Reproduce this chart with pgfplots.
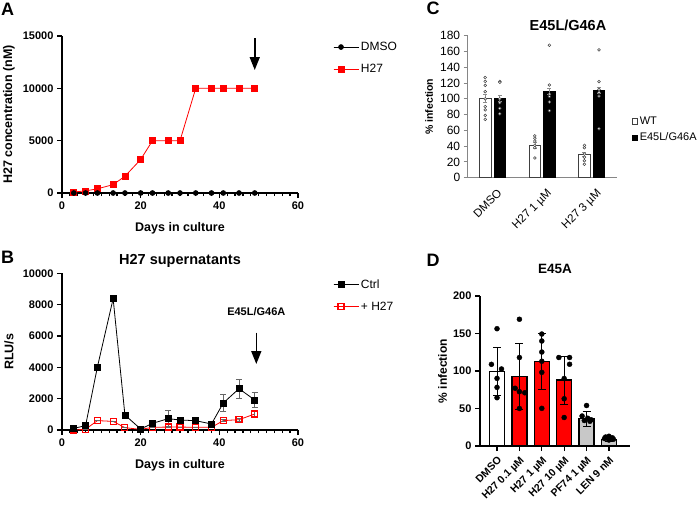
\documentclass[border=0pt]{standalone}
\usepackage{fontspec}
\setmainfont{Liberation Sans}
\usepackage{pgfplots}
\pgfplotsset{compat=1.18}
\usetikzlibrary{arrows.meta}
\definecolor{prismred}{RGB}{255,0,0}
\definecolor{barGray}{RGB}{200,200,200}
\definecolor{xlgray}{RGB}{134,134,134}
\newcommand{\fs}[1]{\fontsize{#1}{#1}\selectfont}

\pgfplotsset{
  prism/.style={
    scale only axis, clip=false,
    axis lines=left, axis line style={-, line width=1.3pt},
    tick style={black, line width=1.3pt},
    tick align=outside,
    major tick length=5pt, minor tick length=3pt,
    tick label style={font=\fs{11}\bfseries},
    label style={font=\fs{12.5}\bfseries},
    scaled ticks=false,
    /pgf/number format/assume math mode=true,
    /pgf/number format/1000 sep={},
    legend style={draw=none, fill=none, font=\fs{12}, inner sep=0pt, row sep=8pt, legend cell align=left},
    legend image code/.code={\draw[mark repeat=2,mark phase=2,##1] plot coordinates {(0pt,0pt) (7.5pt,0pt) (15pt,0pt)}; \path (0pt,0pt) -- (25pt,0pt);},
  },
}

\begin{document}
\begin{tikzpicture}
\useasboundingbox (0,0) rectangle (700pt,-504pt);

% ---------------- Panel A ----------------
\begin{axis}[prism, at={(62pt,-193pt)}, anchor=south west, width=236pt, height=157pt,
  xmin=0, xmax=60, ymin=0, ymax=15000,
  xtick={0,20,40,60}, ytick={0,5000,10000,15000}, minor x tick num=9,
  xlabel={Days in culture}, ylabel={H27 concentration (nM)},
  xlabel style={at={(axis description cs:0.5,-0.223)}, anchor=center},
  ylabel style={at={(axis description cs:-0.225,0.5)}, anchor=center},
  legend style={at={(axis description cs:1.148,0.975)}, anchor=north west},
  reverse legend]
\addplot[prismred, line width=0.8pt, mark=square*, mark size=3pt] coordinates {
(3,100)(6,200)(9,400)(13,800)(16,1600)(20,3200)(23,5000)(27,5000)(30,5000)(34,10000)(38,10000)(41,10000)(45,10000)(49,10000)};
\addlegendentry{H27}
\addplot[black, line width=0.8pt, mark=*, mark size=2.4pt] coordinates {
(3,0)(6,0)(9,0)(13,0)(16,0)(20,0)(23,0)(27,0)(30,0)(34,0)(38,0)(41,0)(45,0)(49,0)};
\addlegendentry{DMSO}
\draw[-{Triangle[width=10pt,length=13pt]}, line width=1.6pt] (axis cs:49,14800) -- (axis cs:49,11750);
\end{axis}

% ---------------- Panel B ----------------
\begin{axis}[prism, at={(62pt,-430pt)}, anchor=south west, width=236pt, height=156.7pt,
  xmin=0, xmax=60, ymin=0, ymax=10000,
  xtick={0,20,40,60}, ytick={0,2000,4000,6000,8000,10000}, minor x tick num=9,
  xlabel={Days in culture}, ylabel={RLU/s},
  xlabel style={at={(axis description cs:0.5,-0.223)}, anchor=center},
  ylabel style={at={(axis description cs:-0.225,0.5)}, anchor=center},
  title={H27 supernatants},
  title style={font=\fs{14.5}\bfseries, at={(axis description cs:0.5,1)}, anchor=base, yshift=3pt},
  legend style={at={(axis description cs:1.148,0.975)}, anchor=north west},
  reverse legend]
\addplot[prismred, line width=0.8pt, mark=square, mark size=3pt, mark options={fill=white, line width=1.1pt},
  error bars/.cd, y dir=both, y explicit,
  error bar style={line width=0.8pt, draw=black!60}, error mark options={rotate=90, mark size=3pt, line width=0.8pt, draw=black!60}]
 coordinates {
(3,0)+-(0,0) (6,50)+-(0,0) (9,600)+-(0,0) (13,550)+-(0,0) (16,150)+-(0,0) (20,40)+-(0,0) (23,170)+-(0,0)
(27,190)+-(0,0) (30,190)+-(0,0) (34,170)+-(0,0) (38,170)+-(0,0) (41,600)+-(0,80) (45,660)+-(0,80) (49,1020)+-(0,220)};
\addlegendentry{+ H27}
\addplot[black, line width=0.8pt, mark=square*, mark size=3pt,
  error bars/.cd, y dir=both, y explicit,
  error bar style={line width=0.8pt, draw=black!60}, error mark options={rotate=90, mark size=3pt, line width=0.8pt, draw=black!60}]
 coordinates {
(3,106)+-(0,60) (6,280)+-(0,80) (9,4020)+-(0,0) (13,8380)+-(0,0) (16,957)+-(0,0) (20,64)+-(0,40) (23,425)+-(0,180)
(27,723)+-(0,500) (30,638)+-(0,150) (34,596)+-(0,150) (38,383)+-(0,120) (41,1723)+-(0,550) (45,2638)+-(0,600) (49,1915)+-(0,480)};
\addlegendentry{Ctrl}
\draw[-{Triangle[width=10pt,length=13pt]}, line width=1.6pt] (axis cs:49.4,6210) -- (axis cs:49.4,4210);
\node[font=\fs{11}\bfseries] at (axis cs:49.4,7550) {E45L/G46A};
\end{axis}

% ---------------- Panel C ----------------
\begin{axis}[scale only axis, clip=false, at={(467.7pt,-177.7pt)}, anchor=south west, width=148.8pt, height=142pt,
  axis lines=left, axis line style={-, draw=xlgray, line width=0.9pt},
  xmin=0, xmax=3, ymin=0, ymax=180, ytick distance=20,
  xtick={0.5,1.5,2.5}, xticklabels={DMSO,H27 1 µM,H27 3 µM},
  x tick label style={rotate=45, anchor=north east, font=\fs{11.5}, yshift=-4pt, xshift=2pt},
  y tick label style={font=\fs{12}},
  /pgf/number format/assume math mode=true,
  tick align=outside, major tick length=4pt,
  ytick style={draw=xlgray, line width=0.9pt}, xtick style={draw=none},
  ylabel={\% infection}, ylabel style={font=\fs{10.5}\bfseries, at={(axis description cs:-0.26,0.5)}, anchor=center},
  legend style={at={(axis description cs:1.102,0.444)}, anchor=north west, draw=none, fill=none, font=\fs{11}, inner sep=0pt, row sep=3pt, legend cell align=left}]
\addplot[ybar, bar width=11.3pt, bar shift=0pt, fill=white, draw=black!75, line width=0.7pt,
  legend image code/.code={\draw[fill=white, draw=black!75, line width=0.7pt] (0pt,-2.6pt) rectangle (5.2pt,2.6pt);},
  error bars/.cd, y dir=both, y explicit,
  error bar style={draw=black!45, line width=0.6pt}, error mark options={rotate=90, mark size=2pt, draw=black!45, line width=0.6pt}]
  coordinates {(0.353,100.5)+-(0,5) (1.353,41)+-(0,3.5) (2.353,29.6)+-(0,3)};
\addlegendentry{WT}
\addplot[ybar, bar width=11.3pt, bar shift=0pt, fill=black, draw=black, line width=0.7pt,
  legend image code/.code={\draw[fill=black, draw=black, line width=0.7pt] (0pt,-2.6pt) rectangle (5.2pt,2.6pt);},
  error bars/.cd, y dir=both, y explicit,
  error bar style={draw=black!45, line width=0.6pt}, error mark options={rotate=90, mark size=2pt, draw=black!45, line width=0.6pt}]
  coordinates {(0.647,100.5)+-(0,4) (1.647,109.4)+-(0,4) (2.647,111)+-(0,4)};
\addlegendentry{E45L/G46A}
\addplot[forget plot, only marks, mark=*, mark size=1.4pt, mark options={fill=white, draw=black!75, line width=0.5pt}] coordinates {
(0.353,127)(0.353,122)(0.353,117)(0.353,109)(0.353,100)(0.353,90)(0.353,86)(0.353,79)(0.353,74)
(0.647,122)(0.647,121)(0.647,100)(0.647,95)(0.647,88)(0.647,81)
(1.353,53)(1.353,50)(1.353,46.5)(1.353,41)(1.353,38)(1.353,25)
(1.647,168)(1.647,117.5)(1.647,106)(1.647,103)(1.647,96)(1.647,85)
(2.353,41)(2.353,38)(2.353,30)(2.353,26)(2.353,21.5)(2.353,17)
(2.647,162)(2.647,121.7)(2.647,112)(2.647,108)(2.647,103.5)(2.647,62)};
\node[font=\fs{14.5}\bfseries] at (axis description cs:0.674,1.075) {E45L/G46A};
\end{axis}

% ---------------- Panel D ----------------
\begin{axis}[prism, at={(480pt,-446pt)}, anchor=south west, width=150pt, height=150pt,
  xmin=-0.76, xmax=5.94, ymin=0, ymax=200, ytick={0,50,100,150,200},
  xtick={0,1,2,3,4,5},
  xticklabels={DMSO,H27 0.1 µM,H27 1 µM,H27 10 µM,PF74 1 µM,LEN 9 nM},
  x tick label style={rotate=45, anchor=north east, font=\fs{10.5}\bfseries},
  ylabel={\% infection},
  ylabel style={at={(axis description cs:-0.249,0.5)}, anchor=center, font=\fs{12}\bfseries},
  title={E45A},
  title style={font=\fs{13.5}\bfseries, at={(axis description cs:0.5,1.14)}, anchor=center}]
\pgfplotsset{errD/.style={error bars/.cd, y dir=both, y explicit,
  error bar style={draw=black, line width=1pt}, error mark options={rotate=90, mark size=4pt, draw=black, line width=1pt}}}
\addplot[ybar, bar width=15pt, bar shift=0pt, fill=white, draw=black, line width=1.4pt, errD]
  coordinates {(0,99.5)+-(0,32)};
\addplot[ybar, bar width=15pt, bar shift=0pt, fill=prismred, draw=black, line width=1.4pt, errD]
  coordinates {(1,92.4)+-(0,44) (2,112.4)+-(0,37) (3,88)+-(0,32)};
\addplot[ybar, bar width=15pt, bar shift=0pt, fill=barGray, draw=black, line width=1.4pt, errD]
  coordinates {(4,36.4)+-(0,10) (5,9)+-(0,3)};
\addplot[only marks, mark=*, mark size=2.5pt, black] coordinates {
(0,156.4)(-0.25,108.9)(0.2,102.7)(0,90.2)(0,78.2)(0,64.4)
(1,169)(1,118)(0.81,77)(1,72.4)(1.24,71)(1,50)
(2,149.3)(2,140)(2,125.3)(2,113)(2,98.2)(2,50.2)
(2.76,118)(3.24,118)(3.24,109)(3,90)(3,63)(3,38)
(4,54)(3.8,40)(4.05,37)(4.2,35)(3.9,34)(4.15,33)
(4.85,12)(5,13)(5.15,11)(4.8,10)(5.2,9)(5,8)};
\end{axis}

% panel letters
\node[font=\fs{18}\bfseries] at (7.5pt,-9pt) {A};
\node[font=\fs{18}\bfseries] at (7.5pt,-257.5pt) {B};
\node[font=\fs{18}\bfseries] at (433pt,-8pt) {C};
\node[font=\fs{18}\bfseries] at (433pt,-260pt) {D};
\end{tikzpicture}
\end{document}
